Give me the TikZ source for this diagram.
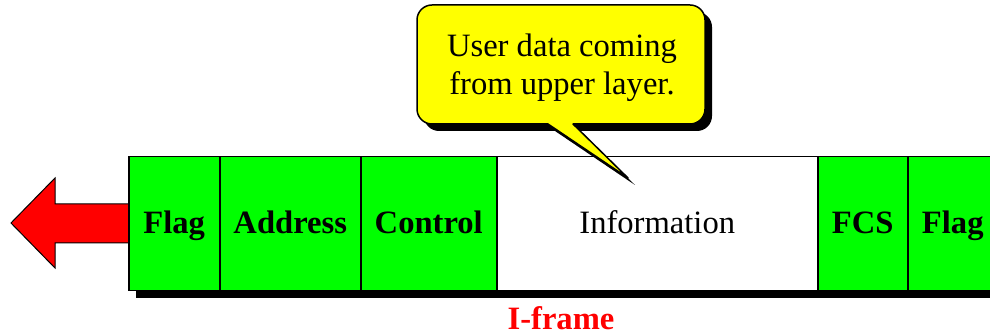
\documentclass[tikz,border=0pt]{standalone}
\usepackage{fontspec}
\setmainfont{Liberation Serif}
\definecolor{cellgreen}{RGB}{0,255,0}
\definecolor{flagred}{RGB}{255,0,0}
\definecolor{noteyellow}{RGB}{255,255,0}
\begin{document}
\begin{tikzpicture}[x=1pt,y=-1pt,
  cell/.style={draw=black,line width=1.5pt,fill=cellgreen,anchor=north west,
    minimum height=134pt,inner sep=0pt,text height=25pt,text depth=5pt,
    font=\fontsize{32.6pt}{36pt}\selectfont\bfseries},
  infocell/.style={cell,fill=white,font=\fontsize{32.6pt}{36pt}\selectfont},
  notetext/.style={font=\fontsize{32.6pt}{38pt}\selectfont,align=center,inner sep=0pt},
  bubble/.style={fill=noteyellow,draw=black,line width=1.5pt,line join=round},
  shadowfill/.style={fill=black}
]
\useasboundingbox (0,0) rectangle (990,336);
\clip (0,0) rectangle (990,336);

% outgoing direction arrow
\path[fill=flagred,draw=black,line width=1pt,line join=miter]
  (130,204) -- (55,204) -- (55,178) -- (11,223) -- (55,268) -- (55,243) -- (130,243) -- cycle;

% frame shadow
\fill[black] (136,164) rectangle (1010,298);

% frame fields
\node[cell,minimum width=91pt] (flagA) at (128,156) {Flag};
\node[cell,minimum width=141pt] (addr) at (219,156) {Address};
\node[cell,minimum width=136pt] (ctrl) at (360,156) {Control};
\node[infocell,minimum width=321pt] (info) at (496,156) {Information};
\node[cell,minimum width=90pt] (fcs) at (817,156) {FCS};
\node[cell,minimum width=90pt] (flagB) at (907,156) {Flag};

% callout bubble with shadow
\path[shadowfill,shift={(7,7)}]
  (573,124) -- (628,178) -- (548,124) [rounded corners=15] -- (417,124) -- (417,5)
  -- (705,5) -- (705,124) [sharp corners] -- cycle;
\path[bubble]
  (573,124) -- (628,178) -- (548,124) [rounded corners=15] -- (417,124) -- (417,5)
  -- (705,5) -- (705,124) [sharp corners] -- cycle;
\node[notetext,anchor=base] (note) at (562,95) {User data coming\\from upper layer.};

% frame caption
\node[font=\fontsize{32.6pt}{36pt}\selectfont\bfseries,text=flagred,anchor=base,inner sep=0pt]
  (caption) at (561,330) {I-frame};
\end{tikzpicture}
\end{document}
